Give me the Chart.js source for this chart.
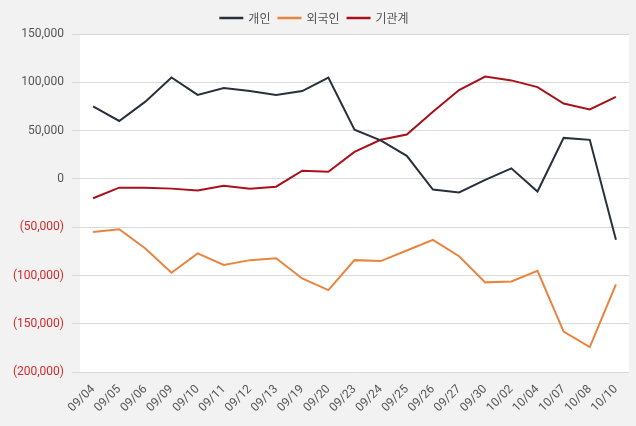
<!DOCTYPE html>
<html>
<head>
<meta charset="utf-8">
<script src="https://cdn.jsdelivr.net/npm/chart.js@4"></script>
<style>
  html, body { margin: 0; padding: 0; background: #f2f2f2; }
  #wrap { width: 636px; height: 426px; }
</style>
</head>
<body>
<div id="wrap"><canvas id="flowChart" width="636" height="426"></canvas></div>
<script>
const dates = ["09/04", "09/05", "09/06", "09/09", "09/10", "09/11", "09/12", "09/13", "09/19", "09/20",
  "09/23", "09/24", "09/25", "09/26", "09/27", "09/30", "10/02", "10/04", "10/07", "10/08", "10/10"];

// 개인
const individual = [75000, 60000, 80000, 105000, 87000, 94000, 91000, 87000, 91000, 105000,
  51000, 40000, 24000, -11000, -14000, -1000, 11000, -13000, 42500, 40500, -63000];
// 외국인
const foreign = [-55000, -52000, -72000, -97000, -77000, -89000, -84000, -82000, -103000, -115000,
  -84000, -85000, -74000, -63000, -80000, -107000, -106000, -95000, -158000, -174000, -109000];
// 기관계
const institution = [-20000, -9000, -9000, -10000, -12000, -7000, -10000, -8000, 8500, 7500,
  28000, 40500, 46000, 69500, 92000, 106000, 102000, 95000, 78000, 72000, 85000];

const yTicks = [150000, 100000, 50000, 0, -50000, -100000, -150000, -200000];

// 배경 (회색 + 흰색 플롯 영역)
const bgPlugin = {
  id: "bg",
  beforeDraw(chart) {
    const { ctx, chartArea: a } = chart;
    ctx.save();
    ctx.fillStyle = "#f2f2f2";
    ctx.fillRect(0, 0, chart.width, chart.height);
    ctx.fillStyle = "#ffffff";
    ctx.fillRect(a.left, a.top, a.right - a.left, a.bottom - a.top);
    ctx.restore();
  }
};

function fmt(v) {
  const s = Math.abs(v).toLocaleString("en-US");
  return v < 0 ? "(" + s + ")" : s;
}

function series(label, data, color) {
  return {
    label: label,
    data: data,
    borderColor: color,
    backgroundColor: color,
    borderWidth: 2,
    pointRadius: 0,
    tension: 0
  };
}

new Chart(document.getElementById("flowChart").getContext("2d"), {
  type: "line",
  data: {
    labels: dates,
    datasets: [
      series("개인", individual, "#28303d"),
      series("외국인", foreign, "#e8843f"),
      series("기관계", institution, "#a8111a")
    ]
  },
  options: {
    responsive: false,
    animation: false,
    layout: { padding: { left: 0, right: 7, top: 4, bottom: 9 } },
    plugins: {
      legend: {
        display: true,
        position: "top",
        labels: {
          boxWidth: 22,
          boxHeight: 0.5,
          padding: 8,
          color: "#555",
          font: { family: "'Noto Sans CJK KR', 'Noto Sans', sans-serif", size: 12 }
        }
      },
      tooltip: { enabled: false }
    },
    scales: {
      x: {
        offset: true,
        grid: { display: false },
        border: { display: false },
        ticks: {
          autoSkip: false,
          maxRotation: 45,
          minRotation: 45,
          padding: 2,
          color: "#555",
          font: { family: "Roboto, 'Liberation Sans', sans-serif", size: 12 }
        }
      },
      y: {
        min: -200000,
        max: 150000,
        afterBuildTicks(scale) {
          scale.ticks = yTicks.map(v => ({ value: v }));
        },
        afterFit(scale) { scale.width = 80; },
        border: { display: false },
        grid: { color: "#d9d9d9", tickLength: 8 },
        ticks: {
          padding: 8,
          callback: v => fmt(v),
          color: ctx => (ctx.tick && ctx.tick.value < 0 ? "#d42a2a" : "#555"),
          font: { family: "Roboto, 'Liberation Sans', sans-serif", size: 12 }
        }
      }
    }
  },
  plugins: [bgPlugin]
});
</script>
</body>
</html>
